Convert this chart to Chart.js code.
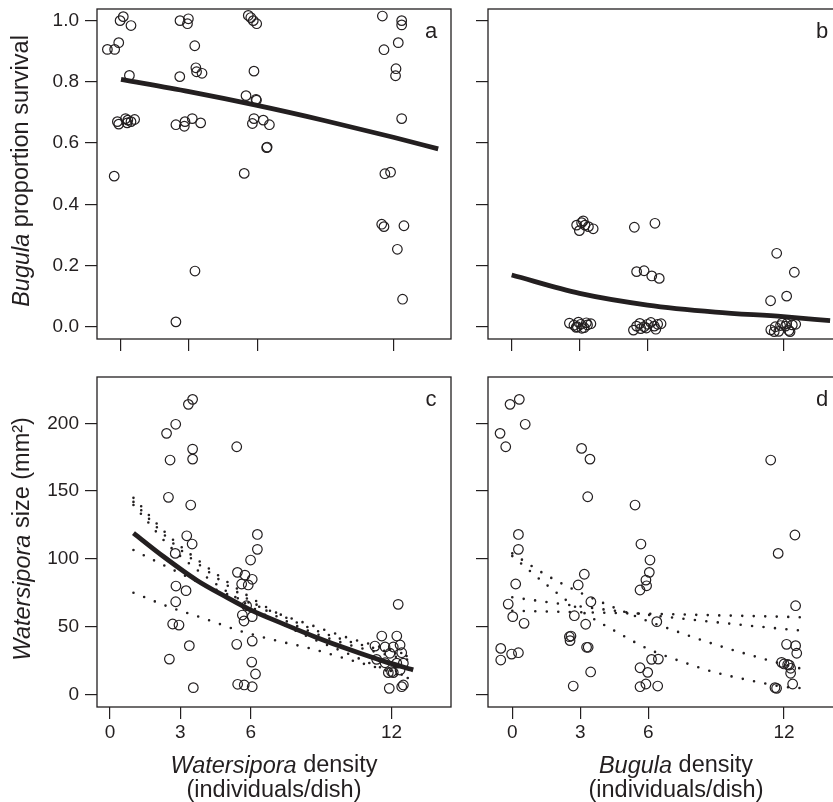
<!DOCTYPE html>
<html>
<head>
<meta charset="utf-8">
<script src="https://cdn.jsdelivr.net/npm/chart.js@4.4.1/dist/chart.umd.min.js"></script>
<style>
  html, body { margin: 0; padding: 0; background: #fff; }
  #wrap { position: relative; width: 833px; height: 802px; overflow: hidden; background: #fff; }
  canvas { position: absolute; }
</style>
</head>
<body>
<div id="wrap">
  <canvas id="pa" width="460" height="372" style="left:0;top:-12px;width:460px;height:372px"></canvas>
  <canvas id="pb" width="414" height="372" style="left:460px;top:-12px;width:414px;height:372px"></canvas>
  <canvas id="pc" width="460" height="446" style="left:0;top:356px;width:460px;height:446px"></canvas>
  <canvas id="pd" width="414" height="446" style="left:460px;top:356px;width:414px;height:446px"></canvas>
</div>
<script>
// ticks
const xTicks = [0, 3, 6, 12];
const survTicks = [0, 0.2, 0.4, 0.6, 0.8, 1.0];
const sizeTicks = [0, 50, 100, 150, 200];

// a: Bugula survival vs Watersipora density
const aX = [-0.6, -0.28, -0.1, -0.04, 0.1, 0.44, 0.37, -0.16, -0.1, 0.2, 0.3, 0.44, 0.6, 0.27, -0.3,
  2.6, 2.97, 2.93, 3.25, 3.3, 3.33, 3.57, 2.59, 2.42, 2.79, 2.82, 3.14, 3.51, 3.26, 2.42,
  5.61, 5.72, 5.83, 5.98, 5.86, 5.51, 5.95, 5.97, 5.86, 5.79, 6.27, 6.54, 6.42, 6.44, 5.43,
  11.52, 12.37, 12.37, 11.59, 12.22, 12.12, 12.1, 12.37, 11.63, 11.88, 11.49, 11.59, 12.47, 12.18, 12.41];
const aY = [0.906, 0.906, 0.928, 1.0, 1.013, 0.984, 0.821, 0.67, 0.662, 0.68, 0.675, 0.67, 0.677, 0.666, 0.492,
  1.0, 1.006, 0.99, 0.918, 0.846, 0.833, 0.828, 0.817, 0.66, 0.655, 0.67, 0.68, 0.666, 0.182, 0.016,
  1.017, 1.01, 1.0, 0.99, 0.835, 0.755, 0.743, 0.74, 0.68, 0.664, 0.675, 0.66, 0.585, 0.587, 0.501,
  1.015, 1.0, 0.986, 0.905, 0.928, 0.843, 0.82, 0.68, 0.5, 0.505, 0.335, 0.327, 0.33, 0.253, 0.09];
const aFitX = [0, 3, 6, 9, 12, 13.98];
const aFitY = [0.808, 0.768, 0.723, 0.673, 0.619, 0.581];

// b: Bugula survival vs Bugula density
const bX = [2.87, 3.09, 3.16, 3.24, 3.39, 3.6, 2.99,
  2.55, 2.75, 2.9, 3.05, 3.2, 3.35, 3.5, 2.95, 3.1, 2.85, 3.3,
  5.42, 6.33, 5.52, 5.85, 6.19, 6.52,
  5.38, 5.52, 5.66, 5.85, 6.0, 6.15, 6.3, 6.45, 6.37, 5.7, 5.95, 6.6,
  11.71, 12.49, 12.15, 11.44,
  11.45, 11.65, 11.8, 11.95, 12.1, 12.25, 12.4, 12.55, 11.88, 12.15, 12.3, 11.6];
const bY = [0.332, 0.34, 0.346, 0.332, 0.327, 0.32, 0.314,
  0.012, 0.005, 0.0, 0.008, -0.003, 0.006, 0.01, 0.015, -0.005, -0.002, 0.013,
  0.325, 0.338, 0.18, 0.183, 0.166, 0.158,
  -0.011, 0.002, 0.011, 0.0, 0.008, 0.014, 0.002, 0.008, -0.008, -0.006, -0.004, 0.01,
  0.24, 0.178, 0.1, 0.085,
  -0.01, 0.0, -0.015, 0.012, 0.002, -0.012, 0.006, 0.008, 0.004, 0.01, -0.016, -0.016];
const bFitX = [0, 3, 6, 9, 12, 14.07];
const bFitY = [0.169, 0.109, 0.071, 0.048, 0.033, 0.02];

// c: Watersipora size vs Watersipora density
const cX = [2.41, 2.8, 3.34, 3.52, 2.56, 3.52, 3.52, 2.49, 3.44, 3.27, 3.5, 2.78, 2.81, 2.8, 3.24, 2.67, 2.94, 3.38, 2.53, 3.55,
  5.4, 5.43, 5.75, 5.61, 5.89, 6.06, 5.99, 6.28, 6.28, 5.82, 5.64, 5.71, 6.06, 5.4, 6.06, 6.04, 6.2, 5.44, 5.72, 6.06,
  12.28, 11.58, 12.22, 11.29, 11.72, 12.07, 12.36, 11.93, 12.43, 11.36, 11.72, 12.5, 12.22, 12.0, 11.86, 12.07, 12.36, 11.9, 12.43, 12.5];
const cY = [192.6, 199.3, 214, 217.7, 172.9, 181, 173.6, 145.4, 139.7, 117, 110.9, 104, 79.9, 68.3, 76.5, 51.9, 51.1, 35.9, 26, 4.9,
  182.7, 90, 88, 81.4, 80.7, 84.9, 99.1, 118, 107, 65.4, 58.5, 54.1, 57.3, 36.9, 39.3, 23.8, 15, 7.4, 6.9, 5.6,
  66.4, 43, 43, 35.6, 34.9, 34.9, 36.4, 30.3, 30.7, 25.8, 23.3, 23, 23, 16.7, 16, 16, 17.9, 4.4, 5.6, 6.9];
const cFitX = [1, 2.29, 3.71, 4.98, 5.96, 7.38, 8.8, 10.2, 11.65, 12.92];
const cFitY = [119, 101.5, 84, 71.5, 62.5, 52, 42, 33, 24.5, 18];
const cDotX = [1, 2.5, 4, 5.5, 7, 8.5, 10, 11.5, 12.7];
const cDot1 = [145, 117, 95.7, 77, 61, 49, 40, 33, 28];
const cDot2 = [142, 114.5, 93, 74.5, 58.5, 46.5, 37.5, 30.5, 25.5];
const cDot3 = [139.7, 110, 88, 70, 55, 42, 31, 20, 13];
const cDot4 = [106.5, 93.5, 81, 70.5, 60.5, 51.5, 42.5, 35, 29];
const cDot5 = [75, 64.6, 56, 47, 40, 34, 26.5, 19, 12];

// d: Watersipora size vs Bugula density
const dX = [0.31, -0.1, 0.57, -0.54, -0.29, 0.27, 0.27, 0.15, -0.18, 0.02, 0.52, -0.51, -0.51, -0.03, 0.27,
  3.06, 3.43, 3.33, 3.18, 2.91, 3.47, 2.74, 3.24, 2.52, 2.55, 2.59, 3.28, 3.35, 3.46, 2.69,
  5.42, 5.68, 6.08, 6.05, 5.9, 5.93, 5.64, 6.38, 6.15, 6.45, 5.64, 5.98, 5.64, 5.9, 6.42,
  11.41, 12.48, 11.74, 12.51, 12.11, 12.51, 12.56, 11.89, 12.0, 12.16, 12.23, 12.29, 12.29, 12.38, 11.6, 11.67];
const dY = [217.7, 214, 199.3, 192.6, 182.7, 118, 107, 81.4, 66.6, 57.3, 52.4, 33.9, 25.3, 29.7, 30.7,
  181.5, 173.6, 145.8, 88.6, 80.7, 68.3, 58, 51.7, 42.5, 39.6, 43, 34.7, 34.7, 16.5, 6.1,
  139.7, 110.9, 99.1, 90, 84.3, 80.1, 77, 53.6, 25.8, 26, 19.6, 16.2, 5.6, 7.6, 6.1,
  172.9, 117.6, 104, 65.4, 36.9, 35.9, 30.3, 23.6, 22.4, 22, 21.6, 19.2, 15.5, 7.6, 4.9, 4.4];
const dDotX = [0, 1.5, 3, 4.5, 6, 7.5, 9, 10.5, 12, 12.9];
const dDot1 = [102, 81, 62, 47, 33.5, 24, 16, 10.3, 5.5, 4.4];
const dDot2 = [104, 88, 75, 64, 54, 45, 36.5, 29, 22, 18.4];
const dDot3 = [71.6, 68.2, 64.8, 61.7, 58.7, 55.9, 53.2, 50.6, 48.2, 46.8];
const dDot4 = [61.7, 61.1, 60.6, 60.0, 59.4, 58.9, 58.3, 57.8, 57.2, 56.8];

const FONT = '"Liberation Sans", Arial, Helvetica, sans-serif';
const INK = '#231f20';

const pts = (xs, ys) => xs.map((x, i) => ({x: x, y: ys[i]}));

function circles(xs, ys) {
  return {data: pts(xs, ys), showLine: false, pointStyle: 'circle', pointRadius: 4.8,
    pointBorderWidth: 1.2, pointBorderColor: INK, pointBackgroundColor: 'rgba(0,0,0,0)'};
}
function solid(xs, ys) {
  return {data: pts(xs, ys), showLine: true, pointRadius: 0, borderColor: INK, borderWidth: 4.8,
    cubicInterpolationMode: 'monotone', fill: false};
}
function dotted(xs, ys) {
  return {data: pts(xs, ys), showLine: true, pointRadius: 0, borderColor: INK, borderWidth: 2.6,
    borderDash: [0, 11.5], borderCapStyle: 'round', cubicInterpolationMode: 'monotone', fill: false};
}

function drawRuns(ctx, runs, x, y, size, rotate) {
  ctx.save();
  ctx.translate(x, y);
  if (rotate) ctx.rotate(-Math.PI / 2);
  const fonts = runs.map(r => (r[1] ? 'italic ' : '') + size + 'px ' + FONT);
  let total = 0;
  const widths = runs.map((r, i) => { ctx.font = fonts[i]; const w = ctx.measureText(r[0]).width; total += w; return w; });
  let cx = -total / 2;
  ctx.textAlign = 'left';
  ctx.textBaseline = 'middle';
  runs.forEach((r, i) => { ctx.font = fonts[i]; ctx.fillText(r[0], cx, 0); cx += widths[i]; });
  ctx.restore();
}

const decor = {
  id: 'decor',
  afterDraw(chart, args, o) {
    const ctx = chart.ctx, ca = chart.chartArea;
    ctx.save();
    ctx.strokeStyle = INK;
    ctx.lineWidth = 1.3;
    ctx.strokeRect(ca.left, ca.top, ca.right - ca.left, ca.bottom - ca.top);
    ctx.fillStyle = INK;
    ctx.font = '22px ' + FONT;
    ctx.textAlign = 'center';
    ctx.textBaseline = 'middle';
    ctx.fillText(o.letter, ca.left + 334, ca.top + 23);
    if (o.yTitle) drawRuns(ctx, o.yTitle, o.yTitleX, (ca.top + ca.bottom) / 2 - 3, 23.5, true);
    if (o.xTitle) {
      const cx = (ca.left + ca.right) / 2;
      drawRuns(ctx, o.xTitle, cx, ca.bottom + 59, 23.5, false);
      drawRuns(ctx, [['(individuals/dish)', false]], cx, ca.bottom + 84, 23.5, false);
    }
    ctx.restore();
  }
};

function panel(id, cfg) {
  const axisGrid = {drawOnChartArea: false, drawTicks: true, tickLength: 12, color: INK, tickColor: INK, lineWidth: 1.2};
  new Chart(document.getElementById(id), {
    type: 'scatter',
    data: {datasets: cfg.datasets},
    plugins: [decor],
    options: {
      responsive: false,
      maintainAspectRatio: false,
      devicePixelRatio: 1,
      animation: false,
      events: [],
      layout: {padding: {top: 21, right: cfg.padRight, left: 0, bottom: 0}},
      plugins: {legend: {display: false}, tooltip: {enabled: false}, decor: cfg.decor},
      scales: {
        x: {
          type: 'linear', min: cfg.xMin, max: cfg.xMax,
          afterBuildTicks: s => { s.ticks = xTicks.map(v => ({value: v})); },
          afterFit: s => { s.height = cfg.xHeight; },
          grid: axisGrid, border: {display: false},
          ticks: {display: cfg.xLabels, color: INK, font: {family: FONT, size: 19}, padding: 2, maxRotation: 0, autoSkip: false}
        },
        y: {
          type: 'linear', min: cfg.yMin, max: cfg.yMax,
          afterBuildTicks: s => { s.ticks = cfg.yTicks.map(v => ({value: v})); },
          afterFit: s => { s.width = cfg.yWidth; },
          grid: axisGrid, border: {display: false},
          ticks: {display: cfg.yLabels, color: INK, font: {family: FONT, size: 19}, padding: 6,
            callback: cfg.yFormat}
        }
      }
    }
  });
}

panel('pa', {
  datasets: [circles(aX, aY), solid(aFitX, aFitY)],
  xMin: -1.058, xMax: 14.544, yMin: -0.040, yMax: 1.038, yTicks: survTicks,
  xLabels: false, yLabels: true, yWidth: 97, xHeight: 21, padRight: 9,
  yFormat: v => v.toFixed(1),
  decor: {letter: 'a', yTitle: [['Bugula', true], [' proportion survival', false]], yTitleX: 22}
});
panel('pb', {
  datasets: [circles(bX, bY), solid(bFitX, bFitY)],
  xMin: -1.047, xMax: 15.568, yMin: -0.040, yMax: 1.038, yTicks: survTicks,
  xLabels: false, yLabels: false, yWidth: 28, xHeight: 21, padRight: 10,
  yFormat: v => v.toFixed(1),
  decor: {letter: 'b'}
});
panel('pc', {
  datasets: [circles(cX, cY), solid(cFitX, cFitY),
    dotted(cDotX, cDot1), dotted(cDotX, cDot2), dotted(cDotX, cDot3), dotted(cDotX, cDot4), dotted(cDotX, cDot5)],
  xMin: -0.554, xMax: 14.53, yMin: -9.37, yMax: 234.2, yTicks: sizeTicks,
  xLabels: true, yLabels: true, yWidth: 97, xHeight: 95, padRight: 9,
  yFormat: v => String(v),
  decor: {letter: 'c', yTitle: [['Watersipora', true], [' size (mm\u00B2)', false]], yTitleX: 23,
    xTitle: [['Watersipora', true], [' density', false]]}
});
panel('pd', {
  datasets: [circles(dX, dY),
    dotted(dDotX, dDot1), dotted(dDotX, dDot2), dotted(dDotX, dDot3), dotted(dDotX, dDot4)],
  xMin: -1.073, xMax: 15.53, yMin: -9.37, yMax: 234.2, yTicks: sizeTicks,
  xLabels: true, yLabels: false, yWidth: 28, xHeight: 95, padRight: 10,
  yFormat: v => String(v),
  decor: {letter: 'd', xTitle: [['Bugula', true], [' density', false]]}
});
</script>
</body>
</html>
